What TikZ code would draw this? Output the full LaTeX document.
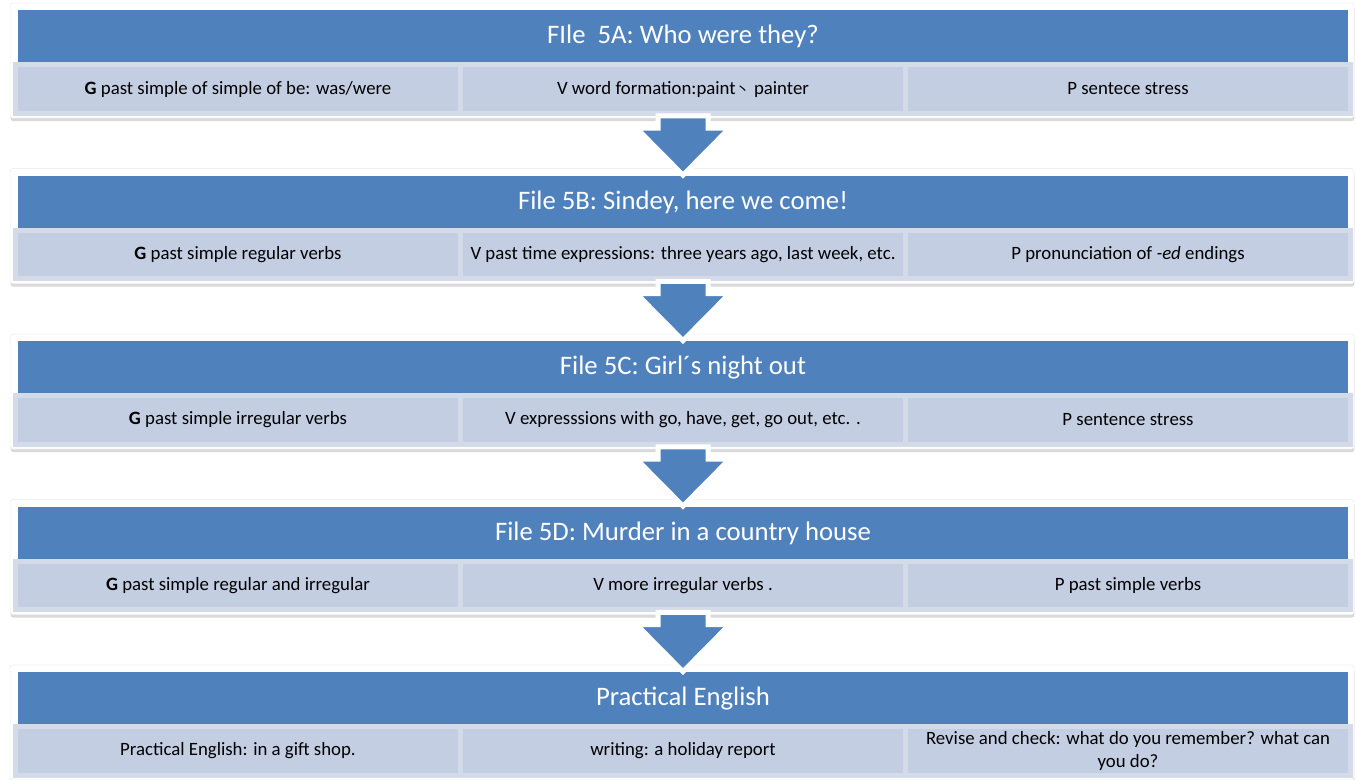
\documentclass[tikz,border=0pt]{standalone}
\usepackage{fontspec}
\setmainfont{Carlito}
\newfontfamily\cjk{Noto Sans CJK SC}
\usetikzlibrary{calc,shadows}

\definecolor{headblue}{HTML}{4F81BD}
\definecolor{cellfill}{HTML}{C3CEE3}
\definecolor{cellline}{HTML}{D3DBE9}

\tikzset{
  card/.style={rectangle, rounded corners=1.5pt, fill=white, draw=black!6,
    minimum width=26.88cm, minimum height=2.3cm, inner sep=0pt,
    drop shadow={opacity=0.3, shadow xshift=0.3pt, shadow yshift=-1.8pt}},
  head/.style={rectangle, fill=headblue, minimum width=26.6cm, minimum height=1.06cm,
    inner sep=0pt, text=white, font=\fontsize{15.2}{18}\selectfont},
  cell/.style={rectangle, fill=cellfill, draw=cellline, line width=0.1cm,
    minimum width=8.9cm, minimum height=0.98cm, inner sep=0pt, align=center,
    font=\fontsize{10.7}{12.6}\selectfont},
  blockarrow/.style={fill=headblue, draw=white, line width=0.1cm,
    drop shadow={opacity=0.3, shadow xshift=0.3pt, shadow yshift=-1.4pt},
    to path={-- ($(\tikztostart)+(-25,0)$) -- ($(\tikztotarget)+(-25,-47)$)
      -- ($(\tikztotarget)+(-46.5,-47)$) -- (\tikztotarget)
      -- ($(\tikztotarget)+(46.5,-47)$) -- ($(\tikztotarget)+(25,-47)$)
      -- ($(\tikztostart)+(25,0)$) -- cycle}}
}

\begin{document}
\begin{tikzpicture}[x=0.02cm, y=-0.02cm]
  \useasboundingbox (0,0) rectangle (1356,780);

  % File 5A
  \node[card] (card1) at (682, 60.5) {};
  \node[head] (head1) at (683, 36.5) {FIle\ \ 5A: Who were they?};
  \node[cell] (left1)  at ( 238, 89) {\textbf{G} past simple of simple of be: was/were};
  \node[cell] (mid1)   at ( 683, 89) {V word formation:paint{\cjk\fontsize{8}{10}\selectfont 丶} painter};
  \node[cell] (right1) at (1128, 89) {P sentece stress};

  % File 5B
  \node[card] (card2) at (682, 226) {};
  \node[head] (head2) at (683, 202) {File 5B: Sindey, here we come!};
  \node[cell] (left2)  at ( 238, 254.5) {\textbf{G} past simple regular verbs};
  \node[cell] (mid2)   at ( 683, 254.5) {V past time expressions: three years ago, last week, etc.};
  \node[cell] (right2) at (1128, 254.5) {P pronunciation of \textit{-ed} endings};

  % File 5C
  \node[card] (card3) at (682, 391.5) {};
  \node[head] (head3) at (683, 367.5) {File 5C: Girl´s night out};
  \node[cell] (left3)  at ( 238, 420) {\textbf{G} past simple irregular verbs};
  \node[cell] (mid3)   at ( 683, 420) {V expresssions with go, have, get, go out, etc. .};
  \node[cell] (right3) at (1128, 420) {P sentence stress};

  % File 5D
  \node[card] (card4) at (682, 557) {};
  \node[head] (head4) at (683, 533) {File 5D: Murder in a country house};
  \node[cell] (left4)  at ( 238, 585.5) {\textbf{G} past simple regular and irregular};
  \node[cell] (mid4)   at ( 683, 585.5) {V more irregular verbs .};
  \node[cell] (right4) at (1128, 585.5) {P past simple verbs};

  % Practical English
  \node[card] (card5) at (682, 722.5) {};
  \node[head] (head5) at (683, 698.5) {Practical English};
  \node[cell] (left5)  at ( 238, 751) {Practical English: in a gift shop.};
  \node[cell] (mid5)   at ( 683, 751) {writing: a holiday report};
  \node[cell] (right5) at (1128, 751) {Revise and check: what do you remember? what can\\you do?};

  \draw[blockarrow] (mid1.south) to (head2.north);
  \draw[blockarrow] (mid2.south) to (head3.north);
  \draw[blockarrow] (mid3.south) to (head4.north);
  \draw[blockarrow] (mid4.south) to (head5.north);
\end{tikzpicture}
\end{document}
